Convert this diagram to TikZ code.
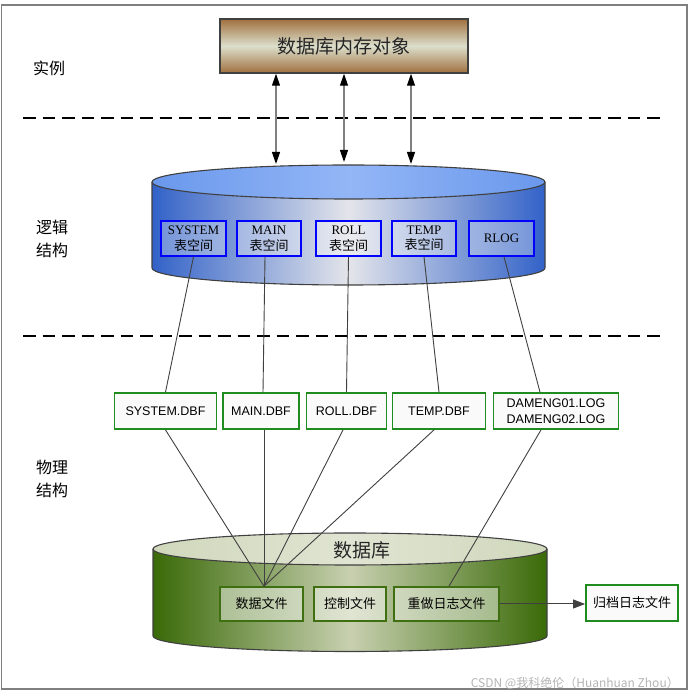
\documentclass[tikz,border=0pt]{standalone}
\usepackage{fontspec}
\usetikzlibrary{arrows.meta}
\newfontfamily\cjk{Noto Sans CJK SC}
\newfontfamily\arialf{Liberation Sans}
\newfontfamily\tnrf{Liberation Serif}
\definecolor{framegray}{HTML}{7F7F7F}
\definecolor{brownedge}{HTML}{A0703F}
\definecolor{brownmid}{HTML}{DCDFCC}
\definecolor{bluedark}{HTML}{3262C8}
\definecolor{bluemid}{HTML}{E4E5EA}
\definecolor{bluetopedge}{HTML}{6A98EC}
\definecolor{bluetopmid}{HTML}{93B6F6}
\definecolor{greendark}{HTML}{3A6A08}
\definecolor{greenmid}{HTML}{C8D0B0}
\definecolor{greentopedge}{HTML}{D0D8BC}
\definecolor{greentopmid}{HTML}{E0E4D2}
\definecolor{ingreen}{HTML}{3E7012}
\definecolor{dbfgreen}{HTML}{1E8C1E}
\definecolor{linkgray}{HTML}{404040}
\definecolor{outline}{HTML}{404040}
\definecolor{wmgray}{HTML}{B4B4B4}
\tikzset{
  tsbox/.style={draw=blue, line width=1.6pt, fill=white, fill opacity=0.3, text opacity=1,
    minimum height=35pt, inner sep=0pt, align=center, font=\tnrf\fontsize{13}{15.5}\selectfont},
  dbfbox/.style={draw=dbfgreen, line width=1.8pt, fill=white!98!black, minimum height=36pt,
    inner sep=0pt, align=left, font=\arialf\fontsize{12.5}{16}\selectfont},
  innerbox/.style={draw=ingreen, line width=1.6pt, fill=white, fill opacity=0.45, text opacity=1,
    minimum height=34pt, inner sep=0pt, font=\cjk\fontsize{13}{15}\selectfont},
  link/.style={draw=linkgray, line width=0.9pt},
  sidelabel/.style={anchor=west, align=left, font=\cjk\fontsize{16}{23}\selectfont, inner sep=0pt},
  dashsep/.style={line width=2pt, dash pattern=on 12.5pt off 7pt},
  dblarrow/.style={draw=gray, line width=1.2pt,
    {Triangle[length=12pt,width=8pt,color=black]}-{Triangle[length=12pt,width=8pt,color=black]}},
  cyloutline/.style={draw=outline, line width=1.1pt},
}
\begin{document}
\begin{tikzpicture}[x=1pt,y=1pt]
\useasboundingbox (0,0) rectangle (688,694);
% frame
\draw[framegray, line width=1.8pt] (1.5,4.7) rectangle (686.7,689.3);

% instance box
\node[draw=outline, line width=1.5pt, minimum width=248pt, minimum height=54pt, inner sep=0pt,
  top color=brownedge, bottom color=brownedge, middle color=brownmid,
  font=\cjk\fontsize{19}{22}\selectfont, text=black!85] (mem) at (344,648) {数据库内存对象};

% side labels
\node[sidelabel] (lblinst) at (33,626) {实例};
\node[sidelabel] (lbllog) at (36,455.5) {逻辑\\结构};
\node[sidelabel] (lblphy) at (36,215.5) {物理\\结构};

% dashed separators
\coordinate (d1a) at (23,576); \coordinate (d1b) at (665,576);
\coordinate (d2a) at (23,358); \coordinate (d2b) at (665,358);
\draw[dashsep] (d1a) -- (d1b);
\draw[dashsep] (d2a) -- (d2b);

% blue cylinder (logical)
\shade[left color=bluedark, right color=bluedark, middle color=bluemid]
  (152,512) -- (152,426) arc[start angle=180, end angle=360, x radius=196.5, y radius=17] -- (545,512) -- cycle;
\draw[cyloutline] (152,512) -- (152,426) arc[start angle=180, end angle=360, x radius=196.5, y radius=17] -- (545,512);
\shade[left color=bluetopedge, right color=bluetopedge, middle color=bluetopmid] (348.5,512) ellipse[x radius=196.5, y radius=17];
\draw[cyloutline] (348.5,512) ellipse[x radius=196.5, y radius=17];

% green cylinder (physical)
\shade[left color=greendark, right color=greendark, middle color=greenmid]
  (153,145) -- (153,58) arc[start angle=180, end angle=360, x radius=197, y radius=15.5] -- (547,145) -- cycle;
\draw[cyloutline] (153,145) -- (153,58) arc[start angle=180, end angle=360, x radius=197, y radius=15.5] -- (547,145);
\shade[left color=greentopedge, right color=greentopedge, middle color=greentopmid] (350,145) ellipse[x radius=197, y radius=16];
\draw[cyloutline] (350,145) ellipse[x radius=197, y radius=16];
\node[font=\cjk\fontsize{19}{22}\selectfont, text=black!85] (dbname) at (362,144) {数据库};

% arrows instance <-> logical
\coordinate (a1) at (276,530);
\coordinate (a2) at (344,532);
\coordinate (a3) at (411,530);
\draw[dblarrow] (mem.south -| a1) -- (a1);
\draw[dblarrow] (mem.south -| a2) -- (a2);
\draw[dblarrow] (mem.south -| a3) -- (a3);

% tablespace boxes
\node[tsbox, minimum width=65pt] (tSYS)  at (193.5,455.5) {SYSTEM\\{\cjk 表空间}};
\node[tsbox, minimum width=64pt] (tMAIN) at (269,455.5) {MAIN\\{\cjk 表空间}};
\node[tsbox, minimum width=65pt] (tROLL) at (348.5,455.5) {ROLL\\{\cjk 表空间}};
\node[tsbox, minimum width=64pt] (tTEMP) at (424,455.5) {TEMP\\{\cjk 表空间}};
\node[tsbox, minimum width=65pt] (tRLOG) at (501.5,455.5) {RLOG};

% file boxes
\node[dbfbox, minimum width=102pt] (gSYS)  at (165.5,283) {SYSTEM.DBF};
\node[dbfbox, minimum width=76pt]  (gMAIN) at (261,283) {MAIN.DBF};
\node[dbfbox, minimum width=80pt]  (gROLL) at (346.5,283) {ROLL.DBF};
\node[dbfbox, minimum width=93pt]  (gTEMP) at (439,283) {TEMP.DBF};
\node[dbfbox, minimum width=125pt] (gDAM)  at (556,283) {DAMENG01.LOG\\DAMENG02.LOG};

% inner boxes of database
\node[innerbox, minimum width=83pt]  (dfile) at (261.5,90) {数据文件};
\node[innerbox, minimum width=72pt]  (cfile) at (350,90) {控制文件};
\node[innerbox, minimum width=105pt] (rfile) at (446.5,90) {重做日志文件};
\node[dbfbox, minimum width=92pt, font=\cjk\fontsize{13}{15}\selectfont] (arch) at (632,91) {归档日志文件};

% links logical -> files
\draw[link] (tSYS.south) -- (gSYS.north);
\draw[link] ([xshift=-4pt]tMAIN.south) -- ([xshift=2pt]gMAIN.north);
\draw[link] (tROLL.south) -- (gROLL.north);
\draw[link] (tTEMP.south) -- (gTEMP.north);
\draw[link] ([xshift=2.5pt]tRLOG.south) -- ([xshift=-16pt]gDAM.north);

% links files -> database files
\draw[link] (gSYS.south) -- ([xshift=2.5pt]dfile.north);
\draw[link] ([xshift=3pt]gMAIN.south) -- ([xshift=2.5pt]dfile.north);
\draw[link] ([xshift=-3.5pt]gROLL.south) -- ([xshift=2.5pt]dfile.north);
\draw[link] ([xshift=-5pt]gTEMP.south) -- ([xshift=2.5pt]dfile.north);
\draw[link] ([xshift=-15pt]gDAM.south) -- ([xshift=2.5pt]rfile.north);

% archive arrow
\draw[link, line width=1pt, -{Triangle[length=12pt,width=9pt]}] (rfile.east) -- (rfile.east -| arch.west);

% watermark
\node[anchor=east, inner sep=0pt, text=wmgray, font=\cjk\fontsize{12}{14}\selectfont] (wm) at (679,11) {CSDN @我科绝伦（Huanhuan Zhou）};
\end{tikzpicture}
\end{document}
